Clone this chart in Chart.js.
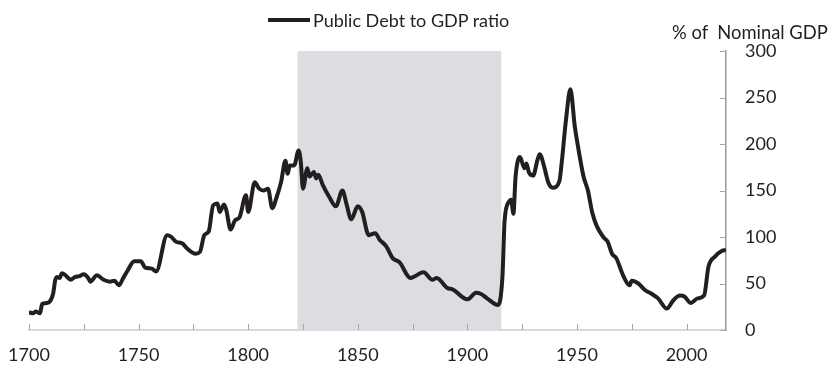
<!DOCTYPE html>
<html>
<head>
<meta charset="utf-8">
<title>Public Debt to GDP ratio</title>
<script src="https://cdn.jsdelivr.net/npm/chart.js@4.4.1/dist/chart.umd.min.js"></script>
<style>
  body { margin: 0; background: #fff; }
  #wrap { position: relative; width: 828px; height: 365px; font-family: Lato, "Open Sans", sans-serif; color: #231f20; }
  #wrap canvas { position: absolute; left: 0; top: 0; }
  .legend { position: absolute; left: 268px; top: 9px; font-size: 18px; line-height: 22px; white-space: nowrap; }
  .legend i { display: inline-block; width: 42px; height: 4px; background: #231f20; vertical-align: middle; margin-right: 3px; position: relative; top: -2px; }
  .unit { position: absolute; left: 672px; top: 21px; font-size: 18.4px; line-height: 22px; white-space: nowrap; }
</style>
</head>
<body>
<div id="wrap">
  <canvas id="debtChart" width="828" height="365"></canvas>
  <div class="legend"><i></i><span id="legendText"></span></div>
  <div class="unit" id="unitText"></div>
</div>
<script>
// series (year, % of nominal GDP)
const seriesLabel = 'Public Debt to GDP ratio';
const unitLabel = '% of\u00a0 Nominal GDP';
const years = [
  1700, 1702, 1703, 1705, 1706, 1708, 1711, 1712, 1713, 1714, 1715, 1717, 1719, 1721, 1723, 1725, 1727, 1728,
  1731, 1734, 1737, 1739, 1741, 1743, 1745, 1748, 1751, 1753, 1756, 1758, 1763, 1765, 1767, 1770, 1772, 1776,
  1778, 1780, 1782, 1784, 1786, 1787, 1789, 1790, 1792, 1794, 1796, 1799, 1800, 1803, 1805, 1807, 1809, 1811,
  1813, 1815, 1817, 1818, 1819, 1821, 1823, 1824, 1825, 1827, 1828, 1830, 1831, 1832, 1834, 1837, 1840, 1843,
  1845, 1847, 1850, 1852, 1855, 1858, 1860, 1863, 1866, 1869, 1874, 1880, 1884, 1886, 1891, 1893, 1900, 1904,
  1906, 1909, 1914, 1916, 1917, 1919, 1920, 1921, 1922, 1924, 1926, 1927, 1928, 1930, 1932, 1933, 1935, 1937,
  1939, 1942, 1943, 1945, 1947, 1949, 1950, 1953, 1955, 1957, 1959, 1962, 1964, 1966, 1968, 1971, 1974, 1975,
  1978, 1981, 1984, 1987, 1991, 1994, 1997, 1999, 2002, 2005, 2008, 2010, 2013, 2016, 2018
];
const debtRatio = [
  19, 18, 20, 18, 28, 29, 39, 54, 57, 56, 61, 58, 54, 57, 58, 60, 56, 52,
  59, 54, 52, 53, 48, 56, 64, 74, 74, 67, 66, 63, 102, 100, 95, 93, 88, 82,
  84, 102, 106, 134, 136, 127, 135, 129, 108, 118, 121, 145, 127, 159, 152, 150, 152, 131,
  143, 159, 182, 168, 177, 177, 193, 181, 152, 174, 165, 170, 163, 167, 156, 143, 133, 150,
  134, 119, 133, 127, 102, 104, 97, 90, 77, 73, 56, 62, 54, 56, 45, 44, 33, 40,
  39, 34, 27, 57, 118, 138, 140, 125, 165, 186, 174, 179, 170, 166, 183, 189, 176, 158,
  153, 160, 179, 226, 259, 219, 204, 165, 150, 126, 112, 100, 95, 82, 77, 59, 48, 53,
  50, 43, 39, 34, 23, 32, 37, 36, 29, 34, 37, 68, 79, 85, 86
];
const xLabelYears = [1700, 1750, 1800, 1850, 1900, 1950, 2000];
const xTickMarks = [1700, 1725, 1750, 1775, 1800, 1825, 1850, 1875, 1900, 1925, 1950, 1975, 2000];
const yTickValues = [0, 50, 100, 150, 200, 250, 300];
const shadeFrom = 1822.5;
const shadeTo = 1915.5;

document.getElementById('legendText').textContent = seriesLabel;
document.getElementById('unitText').textContent = unitLabel;

// grey band plus the inward tick marks the original chart has
const decorations = {
  id: 'decorations',
  beforeDatasetsDraw(chart) {
    const { ctx, scales: { x, y } } = chart;
    const x0 = x.getPixelForValue(shadeFrom);
    const x1 = x.getPixelForValue(shadeTo);
    const top = y.getPixelForValue(y.max);
    const bottom = y.getPixelForValue(y.min);
    ctx.save();
    ctx.fillStyle = '#dcdde0';
    ctx.fillRect(x0, top, x1 - x0, bottom - top);
    ctx.restore();
  },
  afterDraw(chart) {
    const { ctx, chartArea, scales: { x, y } } = chart;
    ctx.save();
    ctx.strokeStyle = '#a6a6a6';
    ctx.lineWidth = 1;
    ctx.beginPath();
    xTickMarks.forEach(v => {
      const px = Math.round(x.getPixelForValue(v)) + 0.5;
      ctx.moveTo(px, chartArea.bottom - 6);
      ctx.lineTo(px, chartArea.bottom);
    });
    yTickValues.forEach(v => {
      const py = Math.round(y.getPixelForValue(v)) + 0.5;
      ctx.moveTo(chartArea.right - 6, py);
      ctx.lineTo(chartArea.right, py);
    });
    ctx.stroke();
    ctx.restore();
  }
};

Chart.defaults.font.family = 'Lato, "Open Sans", sans-serif';
Chart.defaults.font.size = 18;
Chart.defaults.color = '#231f20';

const ctx = document.getElementById('debtChart').getContext('2d');
const chart = new Chart(ctx, {
  type: 'line',
  data: {
    datasets: [{
      label: seriesLabel,
      data: years.map((yr, i) => ({ x: yr, y: debtRatio[i] })),
      borderColor: '#231f20',
      borderWidth: 4,
      pointRadius: 0,
      cubicInterpolationMode: 'monotone',
      fill: false
    }]
  },
  options: {
    responsive: false,
    animation: false,
    events: [],
    layout: { padding: { left: 29, top: 51, right: 0, bottom: 0 } },
    plugins: {
      legend: { display: false },
      tooltip: { enabled: false }
    },
    scales: {
      x: {
        type: 'linear',
        min: 1700,
        max: 2018,
        afterBuildTicks: scale => { scale.ticks = xLabelYears.map(v => ({ value: v })); },
        afterFit: scale => {
          scale.height = 35;
          scale.paddingLeft = 0;
          scale.paddingRight = 0;
        },
        grid: { display: false, drawTicks: false },
        border: { display: true, color: '#d9d9d9', width: 2 },
        ticks: { padding: 14, maxRotation: 0, autoSkip: false, callback: v => String(v) }
      },
      y: {
        position: 'right',
        min: 0,
        max: 300,
        afterBuildTicks: scale => { scale.ticks = yTickValues.map(v => ({ value: v })); },
        afterFit: scale => { scale.width = 102; },
        grid: { display: false, drawTicks: false },
        border: { display: true, color: '#9a9a9a', width: 1.5 },
        ticks: { padding: 19 }
      }
    }
  },
  plugins: [decorations]
});
</script>
</body>
</html>
